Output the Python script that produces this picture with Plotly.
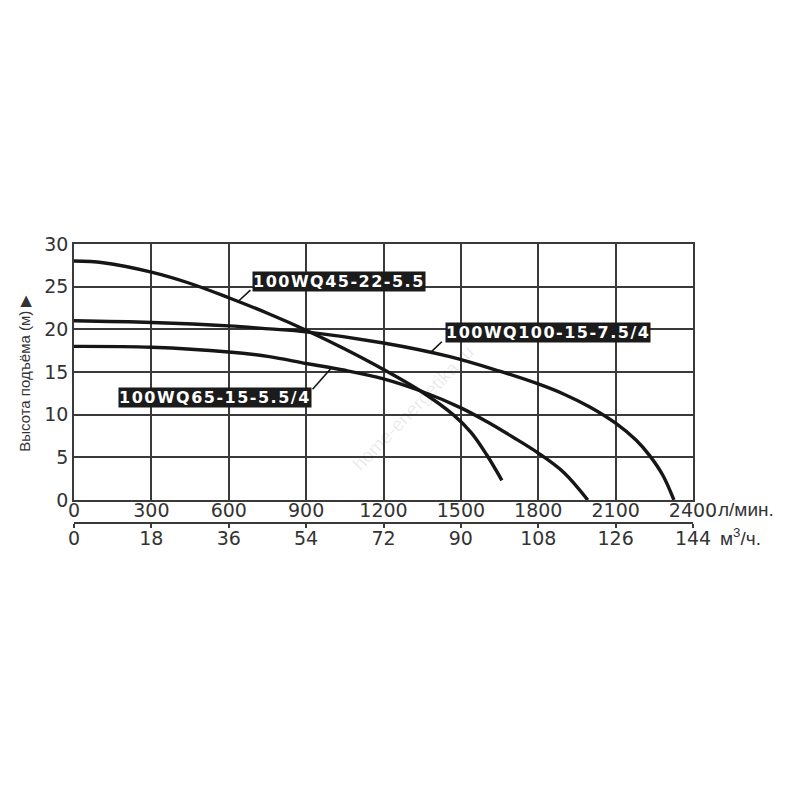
"""
Pump performance curves - 100WQ series
Head vs flow, with a second flow scale in m3/h
"""

import plotly.graph_objects as go

# Flow (l/min) and head (m)
Q_45 = [0, 113, 300, 448, 600, 757, 900, 1050, 1200, 1342, 1470, 1540, 1600, 1659]
H_45 = [28.0, 27.8, 26.7, 25.4, 23.7, 21.8, 19.9, 17.7, 15.3, 12.8, 10.0, 7.9, 5.3, 2.3]

Q_100 = [0, 300, 600, 757, 900, 1200, 1457, 1650, 1800, 1900, 2000, 2100, 2180, 2232, 2283, 2326]
H_100 = [21.0, 20.8, 20.4, 20.05, 19.7, 18.4, 16.8, 15.1, 13.6, 12.4, 10.9, 9.0, 7.0, 5.2, 2.9, 0]

Q_65 = [0, 300, 600, 757, 900, 1050, 1200, 1342, 1500, 1600, 1700, 1800, 1900, 1992]
H_65 = [18.0, 17.9, 17.35, 16.8, 16.0, 15.2, 14.2, 12.8, 10.8, 9.2, 7.4, 5.5, 3.2, 0]

# Axis ticks
LPM_TICKS = [0, 300, 600, 900, 1200, 1500, 1800, 2100, 2400]
M3H_TICKS = [0, 18, 36, 54, 72, 90, 108, 126, 144]
HEAD_TICKS = [0, 5, 10, 15, 20, 25, 30]

# Curve labels: (text, box centre x, box centre y, leader start, leader end)
LABELS = [
    ('100WQ45-22-5.5', 1026, 25.6, (684, 24.6), (634, 23.2)),
    ('100WQ100-15-7.5/4', 1836, 19.6, (1426, 18.55), (1383, 17.3)),
    ('100WQ65-15-5.5/4', 545, 12.0, (925, 12.98), (996, 15.4)),
]

GRID = '#3a3a3a'
INK = '#161616'
TICK_FONT = dict(family='DejaVu Sans', size=19, color='#333333')


def create_chart():
    fig = go.Figure()

    # 1. Curves
    for q, h, name in [(Q_45, H_45, '100WQ45-22-5.5'),
                       (Q_100, H_100, '100WQ100-15-7.5/4'),
                       (Q_65, H_65, '100WQ65-15-5.5/4')]:
        fig.add_trace(go.Scatter(
            x=q, y=h, mode='lines', name=name,
            line=dict(color=INK, width=3.4, shape='spline', smoothing=1.0),
            showlegend=False, hoverinfo='skip'
        ))

    # dummy trace so the m3/h axis gets drawn
    fig.add_trace(go.Scatter(
        x=[M3H_TICKS[0], M3H_TICKS[-1]], y=[None, None], xaxis='x2',
        mode='lines', showlegend=False, hoverinfo='skip'
    ))

    # 2. Black label boxes with leader lines
    for text, bx, by, (x0, y0), (x1, y1) in LABELS:
        fig.add_shape(type='line', x0=x0, y0=y0, x1=x1, y1=y1,
                      xref='x', yref='y', line=dict(color=INK, width=1.6))
        fig.add_annotation(
            x=bx, y=by, xref='x', yref='y',
            text=f'<span style="letter-spacing:1.5px"><b>{text}</b></span>',
            showarrow=False, bgcolor='#1b1b1b', borderpad=0,
            font=dict(family='DejaVu Sans', size=16, color='white')
        )

    # watermark
    fig.add_annotation(
        x=1318, y=10.8, xref='x', yref='y', text='home-energetika.ru',
        showarrow=False, textangle=-46,
        font=dict(family='Liberation Sans', size=19, color='rgba(0,0,0,0.09)')
    )

    # axis title and units
    fig.add_annotation(
        x=-0.079, y=14.8, xref='paper', yref='y', xanchor='center', yanchor='middle',
        text='Высота подъёма (м) ▶', textangle=-90, showarrow=False,
        font=dict(family='Liberation Sans', size=15, color='#333333')
    )
    fig.add_annotation(
        x=1.0, y=0.07, xref='paper', yref='paper', xanchor='left', yanchor='middle',
        xshift=23, text='л/мин.', showarrow=False,
        font=dict(family='Liberation Sans', size=19, color='#333333')
    )
    fig.add_annotation(
        x=1.0, y=-0.0245, xref='paper', yref='paper', xanchor='left', yanchor='middle',
        xshift=25, text='м<sup>3</sup>/ч.', showarrow=False,
        font=dict(family='Liberation Sans', size=19, color='#333333')
    )

    fig.update_layout(
        width=792, height=792,
        paper_bgcolor='white', plot_bgcolor='white',
        margin=dict(l=66, r=107, t=236, b=270),
        xaxis=dict(
            range=[0, 2400], tickvals=LPM_TICKS,
            ticktext=[str(v) for v in LPM_TICKS],
            showgrid=True, gridcolor=GRID, gridwidth=1.5,
            showline=True, linecolor=GRID, linewidth=1.5, mirror=True,
            zeroline=False, ticks='', tickfont=TICK_FONT,
            ticklabelstandoff=-8, anchor='y'
        ),
        xaxis2=dict(
            range=[0, 144], tickvals=M3H_TICKS, overlaying='x',
            anchor='free', position=0.0245, side='bottom',
            showgrid=False, zeroline=False,
            showline=True, linecolor=GRID, linewidth=1.5,
            ticks='outside', ticklen=4, tickcolor=GRID, tickwidth=1.5,
            tickfont=TICK_FONT, ticklabelstandoff=-6
        ),
        yaxis=dict(
            range=[0, 30], tickvals=HEAD_TICKS, domain=[0.1049, 1],
            showgrid=True, gridcolor=GRID, gridwidth=1.5,
            showline=True, linecolor=GRID, linewidth=1.5, mirror=True,
            zeroline=False, ticks='', tickfont=TICK_FONT
        ),
    )

    fig.write_html('out.html')


if __name__ == '__main__':
    create_chart()
